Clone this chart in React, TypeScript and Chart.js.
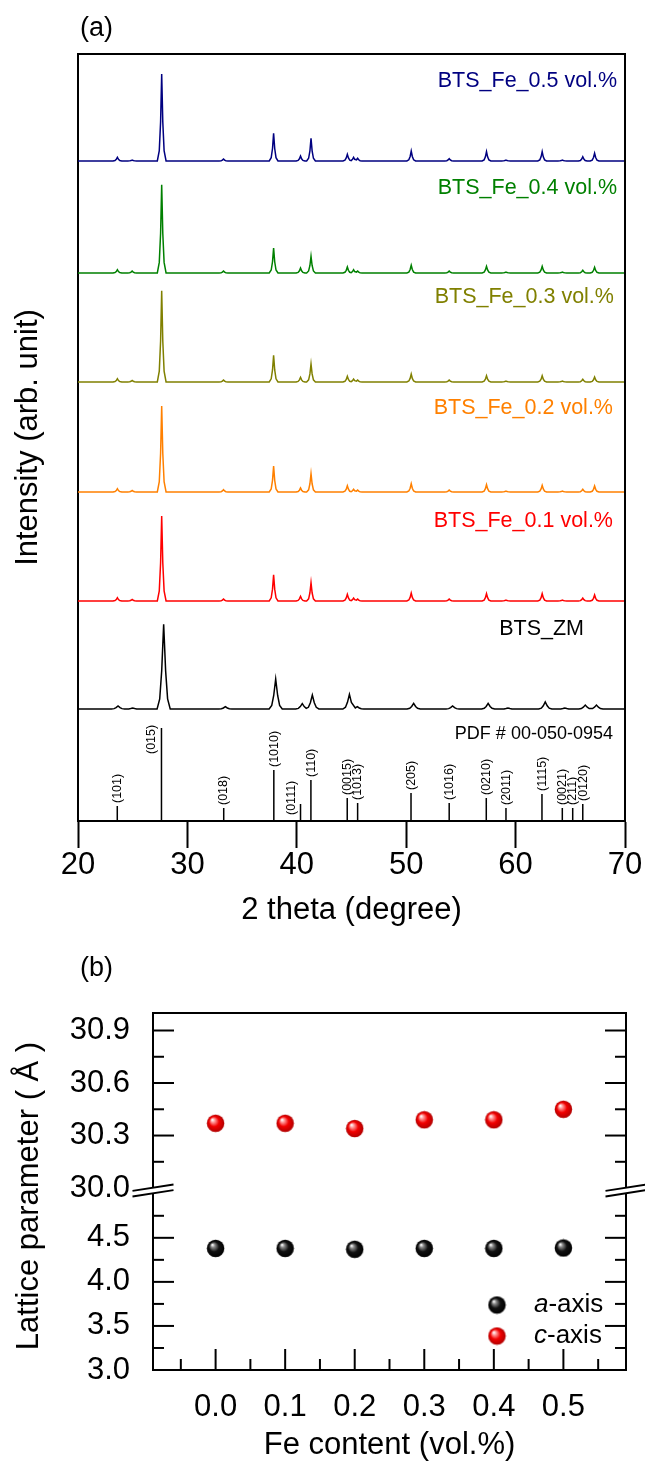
import React, { useEffect, useRef } from 'react';
import { Chart, registerables } from 'chart.js';

Chart.register(...registerables);

const FONT = "'Liberation Sans', Arial, Helvetica, sans-serif";

// ---------------- Panel (a): XRD patterns ----------------
const twoThetaTicks = [20, 30, 40, 50, 60, 70];

const sampleNames = ['BTS_ZM', 'BTS_Fe_0.1 vol.%', 'BTS_Fe_0.2 vol.%', 'BTS_Fe_0.3 vol.%', 'BTS_Fe_0.4 vol.%', 'BTS_Fe_0.5 vol.%'];
// vertical stacking offset of each pattern baseline (arb. unit)
const sampleOffsets = [112, 220, 329, 439, 548, 660];

// BTS_ZM reflections: 2θ (deg) and intensity above its baseline (arb. unit)
const zmPeak2Theta = [23.66, 25.0, 27.83, 33.47, 38.07, 40.5, 41.42, 44.81, 45.53, 50.68, 54.24, 57.49, 59.3, 62.71, 64.5, 66.37, 67.39];
const zmPeakInt = [3.0, 1.0, 84.7, 2.3, 30.0, 5.3, 14.0, 14.7, 2.3, 5.7, 3.0, 5.7, 1.0, 7.0, 1.0, 4.0, 4.0];

// Fe-added samples: reflection positions (2θ) and intensities above baseline
const fePeak2Theta = [23.6, 24.95, 27.65, 33.3, 37.88, 40.34, 41.3, 44.62, 45.19, 45.56, 50.46, 53.93, 57.34, 59.12, 62.43, 64.27, 66.14, 67.22];
const fe01PeakInt = [3.3, 1.5, 85.0, 2.0, 26.3, 4.7, 18.3, 6.7, 3.0, 2.0, 8.0, 2.0, 7.3, 1.0, 7.3, 1.0, 3.0, 6.0];
const fe02PeakInt = [3.3, 1.5, 86.0, 2.3, 26.0, 4.0, 18.3, 6.3, 2.7, 2.0, 8.3, 2.0, 7.3, 1.0, 6.7, 1.0, 2.7, 6.0];
const fe03PeakInt = [3.3, 1.5, 91.3, 2.0, 26.7, 4.7, 18.0, 5.7, 3.0, 2.0, 8.0, 2.0, 6.3, 1.0, 6.3, 1.0, 2.7, 5.0];
const fe04PeakInt = [3.3, 2.0, 88.3, 2.0, 25.0, 5.0, 16.7, 6.0, 3.3, 2.0, 7.7, 2.0, 6.7, 1.0, 6.7, 1.0, 2.7, 5.7];
const fe05PeakInt = [3.7, 1.0, 87.0, 2.0, 27.7, 5.0, 22.7, 6.7, 3.7, 2.7, 10.0, 2.3, 9.3, 1.0, 9.3, 1.0, 4.3, 7.7];

// Reference pattern PDF # 00-050-0954
const pdfTitle = 'PDF # 00-050-0954';
const pdf2Theta = [23.59, 27.63, 33.32, 37.9, 40.34, 41.29, 44.61, 45.56, 50.44, 53.93, 57.32, 59.12, 62.41, 64.27, 65.22, 66.14];
const pdfInt = [15, 93, 13, 51, 17, 41, 23, 18, 28, 18, 23, 13, 27, 13, 13, 17];
const pdfHkl = ['(101)', '(015)', '(018)', '(1010)', '(0111)', '(110)', '(0015)', '(1013)', '(205)', '(1016)', '(0210)', '(2011)', '(1115)', '(0021)', '(211)', '(0120)'];

// ---------------- Panel (b): lattice parameters ----------------
const feContent = [0.0, 0.1, 0.2, 0.3, 0.4, 0.5];
const aAxis = [4.38, 4.38, 4.37, 4.38, 4.38, 4.385];
const cAxis = [30.37, 30.37, 30.34, 30.39, 30.39, 30.45];
const feTicks = [0.0, 0.1, 0.2, 0.3, 0.4, 0.5];
const feMinorTicks = [-0.05, 0.05, 0.15, 0.25, 0.35, 0.45, 0.55];
const upperTicks = [30.0, 30.3, 30.6, 30.9];
const upperMinorTicks = [30.15, 30.45, 30.75];
const lowerTicks = [3.0, 3.5, 4.0, 4.5];
const lowerMinorTicks = [3.25, 3.75, 4.25, 4.75];
const seriesLabels = ['a-axis', 'c-axis'];

// ---------------- styles / placement ----------------
const sampleColors = ['#000000', '#ff0000', '#ff8000', '#808000', '#008000', '#000080'];
const sampleLabelX = [66.25, 68.9, 68.9, 68.99, 69.27, 69.27]; // right edge of label (2θ)
const sampleLabelRise = [81.5, 82, 85.7, 86.5, 86.7, 82]; // label centre above baseline
const narrowShape = { dx: [-0.4, -0.22, -0.1, 0, 0.1, 0.22, 0.4], f: [0, 0.12, 0.45, 1, 0.45, 0.12, 0] };
const broadShape = { dx: [-0.6, -0.36, -0.18, 0, 0.18, 0.36, 0.6], f: [0, 0.12, 0.45, 1, 0.45, 0.12, 0] };
const hklSpecial: Record<string, { dx: number; mode: 'top' | 'base'; d: number }> = {
  '(015)': { dx: -10, mode: 'top', d: 26 },
  '(0111)': { dx: -9, mode: 'base', d: 6 },
};

// Each read peak is drawn with a fixed marker-like outline; outline points of a
// peak never cross half-way towards a neighbouring peak (no overlap zig-zag).
function patternPoints(pos: number[], ints: number[], offset: number, shape: { dx: number[]; f: number[] }) {
  const pts: { x: number; y: number }[] = [{ x: 20, y: offset }];
  pos.forEach((p, i) => {
    const lo = i > 0 ? (pos[i - 1] + p) / 2 : -Infinity;
    const hi = i < pos.length - 1 ? (p + pos[i + 1]) / 2 : Infinity;
    shape.dx.forEach((d, k) => {
      const x = p + d;
      if (x > lo && x < hi) pts.push({ x, y: offset + ints[i] * shape.f[k] });
    });
  });
  pts.push({ x: 70, y: offset });
  return pts;
}

function stickPoints() {
  const pts: { x: number; y: number | null }[] = [];
  pdf2Theta.forEach((p, i) => {
    pts.push({ x: p, y: 0 }, { x: p, y: pdfInt[i] }, { x: p, y: null });
  });
  return pts;
}

function makeSphere(base: string, light: string, dark: string, r: number) {
  const size = Math.ceil(r * 2) + 1;
  const c = document.createElement('canvas');
  c.width = size;
  c.height = size;
  const g = c.getContext('2d')!;
  const cx = size / 2;
  const cy = size / 2;
  const grad = g.createRadialGradient(cx - r * 0.38, cy - r * 0.42, r * 0.04, cx, cy, r);
  grad.addColorStop(0, '#ffffff');
  grad.addColorStop(0.2, light);
  grad.addColorStop(0.55, base);
  grad.addColorStop(1, dark);
  g.fillStyle = grad;
  g.beginPath();
  g.arc(cx, cy, r, 0, Math.PI * 2);
  g.fill();
  return c;
}

const decorA = {
  id: 'decorA',
  afterDraw(chart: any) {
    const { ctx, chartArea: ca, scales } = chart;
    const xs = scales.x;
    const ys = scales.y;
    ctx.save();
    ctx.strokeStyle = '#000';
    ctx.lineWidth = 2;
    ctx.beginPath();
    ctx.moveTo(ca.left - 1, ca.top);
    ctx.lineTo(ca.right, ca.top);
    ctx.lineTo(ca.right, ca.bottom);
    ctx.stroke();

    ctx.fillStyle = '#000';
    ctx.textBaseline = 'alphabetic';
    ctx.textAlign = 'left';
    ctx.font = `27px ${FONT}`;
    ctx.fillText('(a)', 80, 36);

    const fs = 21.5;
    ctx.font = `${fs}px ${FONT}`;
    ctx.textAlign = 'right';
    sampleNames.forEach((name, i) => {
      ctx.fillStyle = sampleColors[i];
      const x = xs.getPixelForValue(sampleLabelX[i]);
      const yc = ys.getPixelForValue(sampleOffsets[i] + sampleLabelRise[i]);
      ctx.fillText(name, x, yc + 0.358 * fs);
    });

    ctx.fillStyle = '#000';
    ctx.font = `18px ${FONT}`;
    ctx.fillText(pdfTitle, xs.getPixelForValue(68.9), ys.getPixelForValue(88) + 0.358 * 18);

    const hs = 12.5;
    ctx.font = `${hs}px ${FONT}`;
    ctx.textAlign = 'left';
    const base = ys.getPixelForValue(0);
    pdfHkl.forEach((t, i) => {
      const px = xs.getPixelForValue(pdf2Theta[i]);
      const top = ys.getPixelForValue(pdfInt[i]);
      let cx = px;
      let by = top - 3;
      const sp = hklSpecial[t];
      if (sp) {
        cx = px + sp.dx;
        by = sp.mode === 'top' ? top + sp.d : base - sp.d;
      }
      ctx.save();
      ctx.translate(cx, by);
      ctx.rotate(-Math.PI / 2);
      ctx.fillText(t, 0, 0.3 * hs);
      ctx.restore();
    });
    ctx.restore();
  },
};

function drawBreak(ctx: CanvasRenderingContext2D, x: number, y: number) {
  const hl = 20.5;
  const slope = 0.155;
  const gap = 2.8;
  ctx.save();
  ctx.fillStyle = '#fff';
  ctx.beginPath();
  ctx.moveTo(x - hl, y + hl * slope - gap);
  ctx.lineTo(x + hl, y - hl * slope - gap);
  ctx.lineTo(x + hl, y - hl * slope + gap);
  ctx.lineTo(x - hl, y + hl * slope + gap);
  ctx.closePath();
  ctx.fill();
  ctx.strokeStyle = '#000';
  ctx.lineWidth = 2;
  for (const s of [-gap, gap]) {
    ctx.beginPath();
    ctx.moveTo(x - hl, y + hl * slope + s);
    ctx.lineTo(x + hl, y - hl * slope + s);
    ctx.stroke();
  }
  ctx.restore();
}

const decorB = {
  id: 'decorB',
  afterDraw(chart: any) {
    const { ctx, chartArea: ca, scales } = chart;
    const xs = scales.x;
    const yt = scales.yTop;
    const yb = scales.yBot;
    ctx.save();
    ctx.strokeStyle = '#000';
    ctx.lineWidth = 2;
    ctx.beginPath();
    ctx.moveTo(ca.left - 1, ca.top);
    ctx.lineTo(ca.right, ca.top);
    ctx.lineTo(ca.right, ca.bottom + 1);
    ctx.stroke();

    const yBreak = yt.bottom;
    const line = (x1: number, y1: number, x2: number, y2: number) => {
      ctx.beginPath();
      ctx.moveTo(x1, y1);
      ctx.lineTo(x2, y2);
      ctx.stroke();
    };
    const MAJ = 21;
    const MIN = 11;
    const groups: [any, number[], number][] = [
      [yt, upperTicks, MAJ], [yt, upperMinorTicks, MIN], [yb, lowerTicks, MAJ], [yb, lowerMinorTicks, MIN],
    ];
    groups.forEach(([sc, vals, len]) => {
      vals.forEach((v) => {
        const y = sc.getPixelForValue(v);
        if (Math.abs(y - yBreak) < 5 || Math.abs(y - ca.bottom) < 2) return;
        line(ca.left, y, ca.left + len, y);
        line(ca.right, y, ca.right - len, y);
      });
    });
    feTicks.forEach((v) => {
      const x = xs.getPixelForValue(v);
      line(x, ca.bottom, x, ca.bottom - MAJ);
    });
    feMinorTicks.forEach((v) => {
      const x = xs.getPixelForValue(v);
      line(x, ca.bottom, x, ca.bottom - MIN);
    });

    drawBreak(ctx, ca.left, yBreak);
    drawBreak(ctx, ca.right, yBreak);

    ctx.fillStyle = '#000';
    ctx.textAlign = 'left';
    ctx.textBaseline = 'alphabetic';
    ctx.font = `27px ${FONT}`;
    ctx.fillText('(b)', 80, 36);

    // y-axis title
    const ts = 31;
    ctx.save();
    ctx.translate(27, 256);
    ctx.rotate(-Math.PI / 2);
    ctx.textAlign = 'center';
    ctx.font = `${ts}px ${FONT}`;
    ctx.fillText('Lattice parameter ( Å )', 0, 0.358 * ts);
    ctx.restore();

    // legend
    const ls = 26;
    const legendY = [365, 396];
    chart.data.datasets.forEach((ds: any, i: number) => {
      const img = ds.pointStyle as HTMLCanvasElement;
      const y = legendY[i];
      ctx.drawImage(img, 497 - img.width / 2, y - img.height / 2);
      const label: string = ds.label;
      ctx.font = `italic ${ls}px ${FONT}`;
      const first = label.slice(0, 1);
      ctx.fillText(first, 534, y + 7);
      const w = ctx.measureText(first).width;
      ctx.font = `${ls}px ${FONT}`;
      ctx.fillText(label.slice(1), 534 + w, y + 7);
    });
    ctx.restore();
  },
};

export default function App() {
  const refA = useRef<HTMLCanvasElement>(null);
  const refB = useRef<HTMLCanvasElement>(null);

  useEffect(() => {
    Chart.defaults.font.family = FONT;
    Chart.defaults.color = '#000';
    const tickFont = { family: FONT, size: 31, lineHeight: 1 };

    const feSets = [fe01PeakInt, fe02PeakInt, fe03PeakInt, fe04PeakInt, fe05PeakInt];
    const datasetsA: any[] = [
      {
        label: sampleNames[0],
        data: patternPoints(zmPeak2Theta, zmPeakInt, sampleOffsets[0], broadShape),
        borderColor: sampleColors[0],
      },
      ...feSets.map((ints, i) => ({
        label: sampleNames[i + 1],
        data: patternPoints(fePeak2Theta, ints, sampleOffsets[i + 1], narrowShape),
        borderColor: sampleColors[i + 1],
      })),
      { label: pdfTitle, data: stickPoints(), borderColor: '#000', spanGaps: false },
    ];

    const chartA = new Chart(refA.current!, {
      type: 'line',
      data: { datasets: datasetsA },
      options: {
        animation: false,
        responsive: false,
        devicePixelRatio: 1,
        layout: { padding: { top: 54, right: 20, left: 0, bottom: 0 } },
        plugins: { legend: { display: false }, tooltip: { enabled: false }, title: { display: false } },
        elements: { point: { radius: 0 }, line: { tension: 0, borderWidth: 1.5, fill: false } },
        scales: {
          x: {
            type: 'linear',
            min: 20,
            max: 70,
            afterBuildTicks: (s: any) => { s.ticks = twoThetaTicks.map((v) => ({ value: v })); },
            ticks: { font: tickFont, color: '#000', padding: 1.5, autoSkip: false, maxRotation: 0, minRotation: 0, callback: (v: any) => String(v) },
            grid: { drawOnChartArea: false, drawTicks: true, tickLength: 27, tickWidth: 2, tickColor: '#000' },
            border: { display: true, width: 2, color: '#000' },
            title: { display: true, text: '2 theta (degree)', font: tickFont, color: '#000', padding: { top: 0, bottom: 14.5 } },
            afterFit: (s: any) => { s.height = 119; },
          },
          y: {
            type: 'linear',
            min: 0,
            max: 767,
            ticks: { display: false },
            grid: { drawOnChartArea: false, drawTicks: false },
            border: { display: true, width: 2, color: '#000' },
            title: { display: true, text: 'Intensity (arb. unit)', font: tickFont, color: '#000', padding: { top: 12.5, bottom: 0 } },
            afterFit: (s: any) => { s.width = 78; },
          },
        },
      } as any,
      plugins: [decorA],
    });

    const sphereBlack = makeSphere('#111111', '#8a8a8a', '#000000', 8.75);
    const sphereRed = makeSphere('#f20000', '#ff9a9a', '#b00000', 8.75);

    const chartB = new Chart(refB.current!, {
      type: 'scatter',
      data: {
        datasets: [
          { label: seriesLabels[0], data: feContent.map((x, i) => ({ x, y: aAxis[i] })), yAxisID: 'yBot', pointStyle: sphereBlack, showLine: false },
          { label: seriesLabels[1], data: feContent.map((x, i) => ({ x, y: cAxis[i] })), yAxisID: 'yTop', pointStyle: sphereRed, showLine: false },
        ],
      },
      options: {
        animation: false,
        responsive: false,
        devicePixelRatio: 1,
        layout: { padding: { top: 73, right: 19, left: 0, bottom: 0 } },
        plugins: { legend: { display: false }, tooltip: { enabled: false }, title: { display: false } },
        scales: {
          x: {
            type: 'linear',
            min: -0.09,
            max: 0.59,
            afterBuildTicks: (s: any) => { s.ticks = feTicks.map((v) => ({ value: v })); },
            ticks: { font: tickFont, color: '#000', padding: 21.5, autoSkip: false, maxRotation: 0, minRotation: 0, callback: (v: any) => Number(v).toFixed(1) },
            grid: { drawOnChartArea: false, drawTicks: false },
            border: { display: true, width: 2, color: '#000' },
            title: { display: true, text: 'Fe content (vol.%)', font: tickFont, color: '#000', padding: { top: 0, bottom: 0 } },
            afterFit: (s: any) => { s.height = 91; },
          },
          yBot: {
            type: 'linear',
            position: 'left',
            stack: 'lat',
            stackWeight: 179.5,
            min: 3.0,
            max: 5.037,
            afterBuildTicks: (s: any) => { s.ticks = lowerTicks.map((v) => ({ value: v })); },
            ticks: { font: tickFont, color: '#000', padding: 23, autoSkip: false, callback: (v: any) => Number(v).toFixed(1) },
            grid: { drawOnChartArea: false, drawTicks: false },
            border: { display: true, width: 2, color: '#000' },
            afterFit: (s: any) => { s.width = 153; },
          },
          yTop: {
            type: 'linear',
            position: 'left',
            stack: 'lat',
            stackWeight: 177.5,
            min: 29.986,
            max: 31.0,
            afterBuildTicks: (s: any) => { s.ticks = upperTicks.map((v) => ({ value: v })); },
            ticks: { font: tickFont, color: '#000', padding: 23, autoSkip: false, callback: (v: any) => Number(v).toFixed(1) },
            grid: { drawOnChartArea: false, drawTicks: false },
            border: { display: true, width: 2, color: '#000' },
            afterFit: (s: any) => { s.width = 153; },
          },
        },
      } as any,
      plugins: [decorB],
    });

    return () => {
      chartA.destroy();
      chartB.destroy();
    };
  }, []);

  return (
    <div style={{ position: 'absolute', left: 0, top: 0, width: 645, height: 1461, background: '#fff' }}>
      <canvas ref={refA} width={645} height={940} style={{ position: 'absolute', left: 0, top: 0, width: 645, height: 940 }} />
      <canvas ref={refB} width={645} height={521} style={{ position: 'absolute', left: 0, top: 940, width: 645, height: 521 }} />
    </div>
  );
}
